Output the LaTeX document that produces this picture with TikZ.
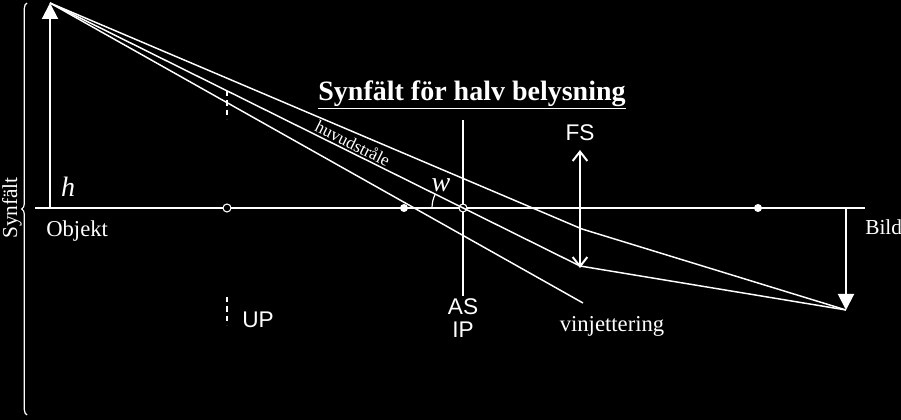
\documentclass[tikz,border=0pt]{standalone}
\usepackage{fontspec}
\setmainfont{Liberation Serif}
\newfontfamily\arialf{Liberation Sans}
\usetikzlibrary{arrows.meta,decorations.pathreplacing}
\begin{document}
\begin{tikzpicture}[x=0.75pt,y=-0.75pt,
  ln/.style={white,line width=1.5pt},
  ray/.style={white,line width=1.1pt},
  ser/.style={white,font=\fontsize{17}{18}\selectfont,inner sep=0pt},
  san/.style={white,font=\arialf\fontsize{17}{18}\selectfont,inner sep=0pt},
  bigtip/.style={-{Triangle[width=12pt,length=12pt]}},
  opt/.style={-{Straight Barb[width=11pt,length=7pt]}}]
\fill[black] (0,0) rectangle (901,420);
\useasboundingbox (0,0) rectangle (901,420);
% axis
\coordinate (axL) at (35,208); \coordinate (axR) at (865,208);
\draw[ln] (axL) -- (axR);
% object / image
\coordinate (ob) at (50,208); \coordinate (obT) at (50,3);
\coordinate (im) at (846,208); \coordinate (imT) at (846,310);
\draw[ln,bigtip] (ob) -- (obT);
\draw[ln,bigtip] (im) -- (imT);
% brace
\draw[white,line width=0.9pt,decorate,decoration={brace,amplitude=4pt}] (27,415) -- (27,3);
\node[ser,rotate=90,font=\fontsize{16}{16}\selectfont] (syn) at (12,208) {Synfält};
\node[ser,font=\itshape\fontsize{21}{21}\selectfont] (h) at (68,187) {h};
\node[ser,anchor=west] (objekt) at (46,231) {Objekt};
\node[ser,anchor=west,font=\fontsize{16}{16}\selectfont] (bild) at (865,227) {Bild};
% stops
\draw[ln,dash pattern=on 4pt off 3pt] (227,91) -- (227,119);
\draw[ln,dash pattern=on 4pt off 3pt] (227,297) -- (227,325);
\node[san] (up) at (258,320) {UP};
\draw[ln] (463,120) -- (463,296);
\node[san] (as) at (463,307) {AS};
\node[san] (ip) at (463,330) {IP};
\coordinate (fsT) at (580,150); \coordinate (fsB) at (580,268);
\draw[ln,opt] (580,208) -- (fsT);
\draw[ln,opt] (580,208) -- (fsB);
\node[san] (fs) at (580,133) {FS};
% points
\node[draw=white,fill=black,circle,inner sep=0pt,minimum size=6pt,line width=0.8pt] (c1) at (227,208) {};
\node[draw=white,fill=black,circle,inner sep=0pt,minimum size=6pt,line width=0.8pt] (c2) at (463,208) {};
\node[fill=white,circle,inner sep=0pt,minimum size=6pt] (d1) at (404,208) {};
\node[fill=white,circle,inner sep=0pt,minimum size=6pt] (d2) at (758,208) {};
% rays
\coordinate (p1) at (582,229); \coordinate (p2) at (580,266); \coordinate (p3) at (583,303);
\draw[ray] (obT) -- (p1) -- (imT);
\draw[ray] (obT) -- (p2) -- (imT);
\draw[ray] (obT) -- (p3);
\node[ser,font=\fontsize{13}{13}\selectfont,rotate=-26.4,anchor=south,inner sep=1.5pt] (huv) at (349,151) {huvudstråle};
\draw[white,line width=0.9pt] (432,208) arc (180:206.4:31);
\node[ser,font=\itshape\fontsize{21}{21}\selectfont] (w) at (441,185) {w};
\node[ser] (vin) at (612,326) {vinjettering};
\node[ser,font=\bfseries\fontsize{21}{21}\selectfont] (title) at (472,95) {\underline{Synfält för halv belysning}};
\end{tikzpicture}
\end{document}
